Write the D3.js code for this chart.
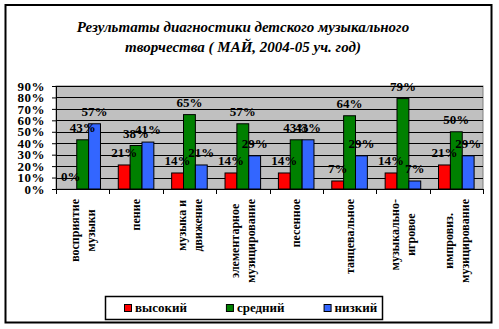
<!DOCTYPE html>
<html>
<head>
<meta charset="utf-8">
<script src="https://cdn.jsdelivr.net/npm/d3@7"></script>
<style>
  html, body { margin: 0; padding: 0; background: #fff; }
  svg { display: block; }
  svg text { font-family: "Liberation Serif", "DejaVu Serif", "Times New Roman", Times, serif; font-weight: bold; fill: #000; }
</style>
</head>
<body>
<svg id="chart" width="499" height="329"></svg>
<script>
// Category labels (each entry holds the wrapped lines of one label)
const categories = [
  ["восприятие", "музыки"],
  ["пение"],
  ["музыка и", "движение"],
  ["элементарное", "музицирование"],
  ["песенное"],
  ["танцевальное"],
  ["музыкально-", "игровое"],
  ["импровиз.", "музицирование"]
];
const seriesNames = ["высокий", "средний", "низкий"];
const seriesColors = ["#FF0000", "#008000", "#3366FF"];
// Shares per category, in percent
const high   = [0, 21, 14, 14, 14, 7, 14, 21];
const medium = [43, 38, 65, 57, 43, 64, 79, 50];
const low    = [57, 41, 21, 29, 43, 29, 7, 29];
const yTicks = [0, 10, 20, 30, 40, 50, 60, 70, 80, 90];
const titleLines = [
  "Результаты диагностики детского музыкального",
  "творчества ( МАЙ, 2004-05 уч. год)"
];

const FONT = '"Liberation Serif", "DejaVu Serif", serif';
const series = [high, medium, low];
const svg = d3.select("#chart");

// Outer chart frame
svg.append("rect")
  .attr("x", 5.5).attr("y", 5).attr("width", 486).attr("height", 317.5)
  .attr("fill", "#fff").attr("stroke", "#000").attr("stroke-width", 2);

// Title
svg.append("g").selectAll("text").data(titleLines).join("text")
  .attr("x", 243).attr("y", (d, i) => 31.5 + i * 20)
  .attr("text-anchor", "middle")
  .attr("font-family", FONT)
  .style("font-style", "italic").style("font-size", "15px")
  .text(d => d);

const plot = { left: 56, right: 483, top: 86, bottom: 189 };

const x = d3.scaleBand()
  .domain(d3.range(categories.length))
  .range([plot.left, plot.right])
  .paddingInner(0).paddingOuter(0);

const xs = d3.scaleBand()
  .domain(d3.range(seriesNames.length))
  .range([0, x.bandwidth()])
  .paddingInner(0).paddingOuter(0.75);

const y = d3.scaleLinear().domain([0, 90]).range([plot.bottom, plot.top]);

// Plot background
svg.append("rect")
  .attr("x", plot.left).attr("y", plot.top)
  .attr("width", plot.right - plot.left).attr("height", plot.bottom - plot.top)
  .attr("fill", "#C0C0C0").attr("stroke", "#808080").attr("stroke-width", 1);

// Horizontal gridlines
svg.append("g").selectAll("line").data(yTicks.filter(t => t > 0)).join("line")
  .attr("x1", plot.left).attr("x2", plot.right)
  .attr("y1", d => Math.round(y(d)) + 0.5).attr("y2", d => Math.round(y(d)) + 0.5)
  .attr("stroke", "#000").attr("stroke-width", 1);

// Y axis
const yAxis = d3.axisLeft(y).tickValues(yTicks).tickSize(4).tickPadding(7)
  .tickFormat(d => d + "%");
const gy = svg.append("g").attr("transform", `translate(${plot.left},0)`).call(yAxis);
gy.attr("font-family", null).attr("font-size", null);
gy.select(".domain").attr("stroke", "#000");
gy.selectAll(".tick line").attr("stroke", "#000");
gy.selectAll(".tick text").attr("fill", "#000")
  .style("font-size", "13px").style("font-family", FONT).style("font-weight", "bold")
  .style("letter-spacing", "0.5px");

// Bars
const groups = svg.append("g").selectAll("g").data(categories).join("g")
  .attr("transform", (d, i) => `translate(${x(i)},0)`);

groups.each(function (c, ci) {
  const g = d3.select(this);
  series.forEach((vals, si) => {
    const v = vals[ci];
    if (v > 0) {
      g.append("rect")
        .attr("x", xs(si)).attr("y", y(v))
        .attr("width", xs.bandwidth()).attr("height", y(0) - y(v))
        .attr("fill", seriesColors[si]).attr("stroke", "#000").attr("stroke-width", 1);
    }
  });
});

// X axis with boundary ticks
svg.append("line")
  .attr("x1", plot.left).attr("x2", plot.right)
  .attr("y1", plot.bottom + 0.5).attr("y2", plot.bottom + 0.5)
  .attr("stroke", "#000");
svg.append("g").selectAll("line").data(d3.range(categories.length + 1)).join("line")
  .attr("x1", i => Math.round(plot.left + i * x.step()) + 0.5)
  .attr("x2", i => Math.round(plot.left + i * x.step()) + 0.5)
  .attr("y1", plot.bottom).attr("y2", plot.bottom + 5)
  .attr("stroke", "#000");

// Value labels
groups.each(function (c, ci) {
  const g = d3.select(this);
  series.forEach((vals, si) => {
    const v = vals[ci];
    g.append("text")
      .attr("x", xs(si) + xs.bandwidth() / 2)
      .attr("y", y(v) - 8)
      .attr("text-anchor", "middle")
      .attr("font-family", FONT)
      .style("font-size", "13px")
      .text(v + "%");
  });
});

// Rotated category labels, clipped at the bottom
svg.append("clipPath").attr("id", "catclip")
  .append("rect").attr("x", 0).attr("y", 192).attr("width", 499).attr("height", 91);

const catG = svg.append("g").attr("clip-path", "url(#catclip)");
categories.forEach((lines, ci) => {
  const cx = x(ci) + x.bandwidth() / 2;
  const texts = lines.map(line =>
    catG.append("text")
      .attr("font-family", FONT)
      .style("font-size", "12px")
      .attr("text-anchor", "middle")
      .attr("dy", "0.35em")
      .text(line));
  const maxLen = d3.max(texts, t => t.node().getComputedTextLength());
  const cy = 199 + maxLen / 2;
  texts.forEach((t, li) => {
    const lx = cx + (li - (lines.length - 1) / 2) * 16;
    t.attr("transform", `translate(${lx},${cy}) rotate(-90)`);
  });
});

// Legend
const legend = svg.append("g");
legend.append("rect")
  .attr("x", 105.5).attr("y", 296.5).attr("width", 277).attr("height", 23)
  .attr("fill", "#fff").attr("stroke", "#000").attr("stroke-width", 1.5);
let lx = 124;
seriesNames.forEach((name, i) => {
  legend.append("rect")
    .attr("x", lx + 0.5).attr("y", 304.5).attr("width", 7).attr("height", 7)
    .attr("fill", seriesColors[i]).attr("stroke", "#000").attr("stroke-width", 1);
  const t = legend.append("text")
    .attr("x", lx + 11).attr("y", 312)
    .attr("font-family", FONT)
    .style("font-size", "13px")
    .text(name);
  lx += 11 + t.node().getComputedTextLength() + 39;
});
</script>
</body>
</html>
